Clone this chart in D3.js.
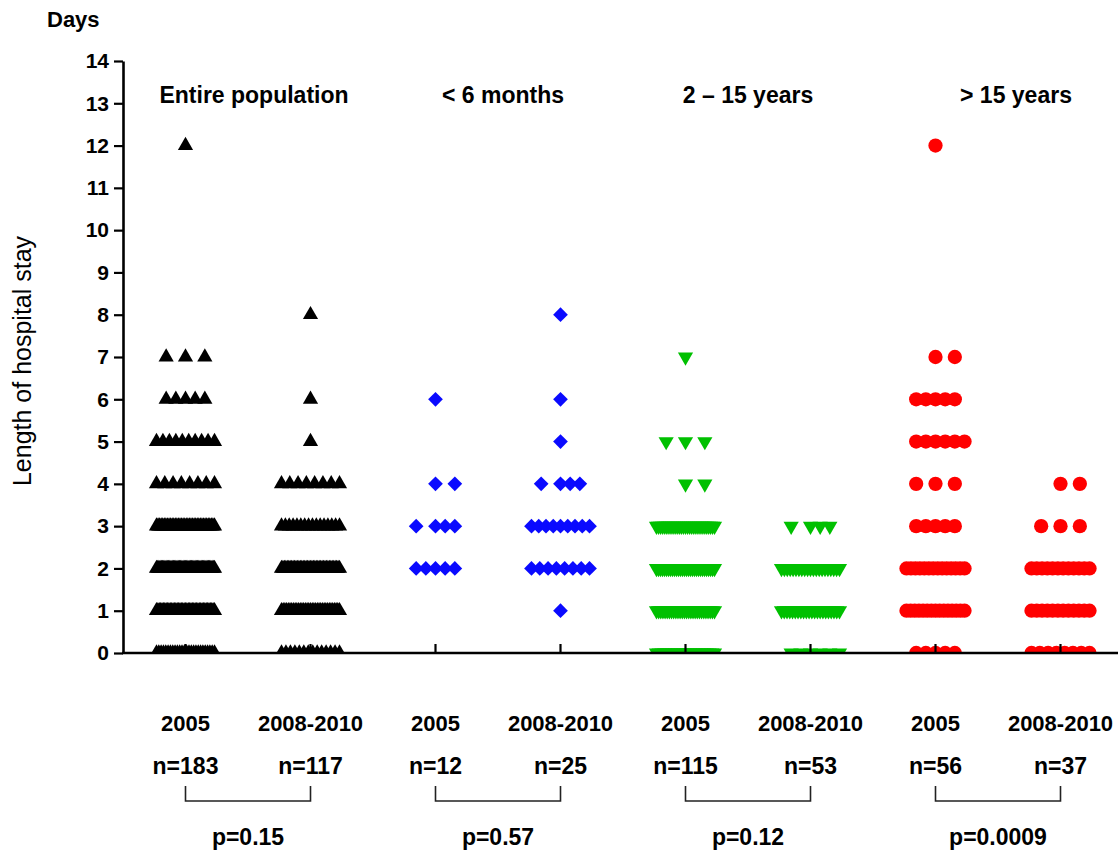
<!DOCTYPE html>
<html>
<head>
<meta charset="utf-8">
<script src="https://cdn.jsdelivr.net/npm/d3@7"></script>
<style>
  html, body { margin: 0; padding: 0; background: #fff; }
  svg { display: block; font-family: "Liberation Sans", Arial, sans-serif; }
</style>
</head>
<body>
<div id="chart"></div>
<script>
// 分组标题
var groupTitles = ["Entire population", "< 6 months", "2 \u2013 15 years", "> 15 years"];
var periods = ["2005", "2008-2010"];
var nValues = [183, 117, 12, 25, 115, 53, 56, 37];
var pValues = ["p=0.15", "p=0.57", "p=0.12", "p=0.0009"];
var yTicks = [0, 1, 2, 3, 4, 5, 6, 7, 8, 9, 10, 11, 12, 13, 14];

// [days, number of patients]
var entire2005 = [[0, 26], [1, 43], [2, 49], [3, 38], [4, 8], [5, 10], [6, 5], [7, 3], [12, 1]];
var entire0810 = [[0, 14], [1, 35], [2, 41], [3, 16], [4, 8], [5, 1], [6, 1], [8, 1]];
var infant2005 = [[2, 5], [3, 4], [4, 2], [6, 1]];
var infant0810 = [[1, 1], [2, 8], [3, 9], [4, 4], [5, 1], [6, 1], [8, 1]];
var child2005 = [[0, 22], [1, 28], [2, 30], [3, 29], [4, 2], [5, 3], [7, 1]];
var child0810 = [[0, 6], [1, 22], [2, 21], [3, 4]];
var adult2005 = [[0, 5], [1, 15], [2, 14], [3, 5], [4, 3], [5, 6], [6, 5], [7, 2], [12, 1]];
var adult0810 = [[0, 8], [1, 12], [2, 12], [3, 3], [4, 2]];

var columns = [entire2005, entire0810, infant2005, infant0810, child2005, child0810, adult2005, adult0810];

var width = 1118;
var height = 851;
var colors = ["#000000", "#0a0aff", "#00c000", "#ff0000"];

var svg = d3.select("#chart").append("svg").attr("width", width).attr("height", height);

var x = d3.scaleBand().domain(d3.range(columns.length)).range([123, 1123]);
var y = d3.scaleLinear().domain([0, 14]).range([653, 61]);
function cx(i) { return x(i) + x.bandwidth() / 2; }

// 每一行的点位置 (像Prism一样)
var unit = 9.67;
var slots = [0, 2, -2, 1, -1, 3, -3];
function offsets(k) {
  if (k <= slots.length) return slots.slice(0, k).map(function (s) { return s * unit; });
  var span = 3 * unit;
  return d3.range(k).map(function (j) { return -span + (2 * span * j) / (k - 1); });
}

svg.append("defs").append("clipPath").attr("id", "plotClip")
  .append("rect").attr("x", 123).attr("y", 0).attr("width", width).attr("height", y(0));

var symbols = [
  { type: d3.symbolTriangle, size: 100, rotate: 0 },
  { type: d3.symbolSquare, size: 108, rotate: 45 },
  { type: d3.symbolTriangle, size: 100, rotate: 180 },
  { type: d3.symbolCircle, size: 160, rotate: 0 }
];

var marks = svg.append("g").attr("clip-path", "url(#plotClip)");
columns.forEach(function (col, i) {
  var g = Math.floor(i / 2);
  var sym = symbols[g];
  var pts = [];
  col.forEach(function (row) {
    offsets(row[1]).forEach(function (o) { pts.push({ day: row[0], dx: o }); });
  });
  marks.append("g").selectAll("path").data(pts).enter().append("path")
    .attr("d", d3.symbol().type(sym.type).size(sym.size))
    .attr("fill", colors[g])
    .attr("transform", function (d) {
      return "translate(" + (cx(i) + d.dx) + "," + y(d.day) + ")rotate(" + sym.rotate + ")";
    });
});

// y轴
var yAxis = svg.append("g").attr("transform", "translate(123,0)")
  .call(d3.axisLeft(y).tickValues(yTicks).tickSize(9).tickPadding(5).tickSizeOuter(0));
yAxis.select(".domain").attr("stroke-width", 2.6);
yAxis.selectAll(".tick line").attr("stroke-width", 2.2);
yAxis.selectAll("text").attr("font-size", 21).attr("font-weight", "bold")
  .attr("font-family", "Liberation Sans, Arial, sans-serif").attr("fill", "#000");

// x轴
svg.append("line").attr("x1", 122).attr("x2", width).attr("y1", y(0)).attr("y2", y(0))
  .attr("stroke", "#000").attr("stroke-width", 2.6);
svg.append("g").selectAll("line").data(d3.range(columns.length)).enter().append("line")
  .attr("x1", cx).attr("x2", cx).attr("y1", y(0)).attr("y2", y(0) - 9)
  .attr("stroke", "#000").attr("stroke-width", 2.2);

svg.append("text").attr("x", 47).attr("y", 27).attr("font-size", 22).attr("font-weight", "bold").text("Days");

svg.append("text").attr("transform", "translate(31,361)rotate(-90)")
  .attr("text-anchor", "middle").attr("font-size", 25).text("Length of hospital stay");

// 组标题
var titleNudge = [6, 5, 0, 18];
svg.append("g").selectAll("text").data(groupTitles).enter().append("text")
  .attr("x", function (d, g) { return (cx(2 * g) + cx(2 * g + 1)) / 2 + titleNudge[g]; })
  .attr("y", 103).attr("text-anchor", "middle").attr("font-size", 23).attr("font-weight", "bold")
  .text(function (d) { return d; });

// 底部标签
var bottom = svg.append("g").attr("text-anchor", "middle").attr("font-weight", "bold");
bottom.selectAll(".period").data(nValues).enter().append("text")
  .attr("class", "period").attr("x", function (d, i) { return cx(i); }).attr("y", 731)
  .attr("font-size", 22).text(function (d, i) { return periods[i % 2]; });
bottom.selectAll(".n").data(nValues).enter().append("text")
  .attr("class", "n").attr("x", function (d, i) { return cx(i); }).attr("y", 774)
  .attr("font-size", 23).text(function (d) { return "n=" + d; });

var brackets = svg.append("g").attr("fill", "none").attr("stroke", "#222").attr("stroke-width", 1.6);
pValues.forEach(function (p, g) {
  var a = cx(2 * g), b = cx(2 * g + 1);
  brackets.append("path").attr("d", "M" + a + ",786V801H" + b + "V786");
  bottom.append("text").attr("x", (a + b) / 2).attr("y", 845).attr("font-size", 23).text(p);
});
</script>
</body>
</html>
